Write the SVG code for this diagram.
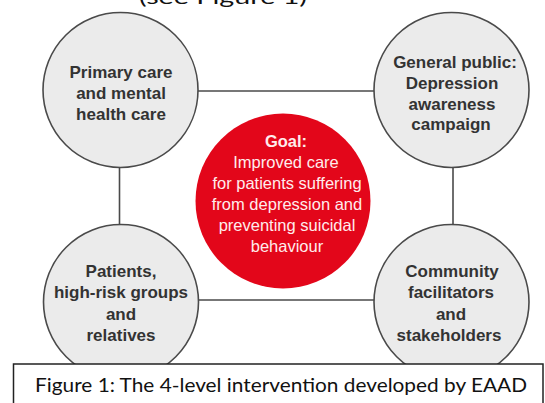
<svg xmlns="http://www.w3.org/2000/svg" width="545" height="403" viewBox="0 0 545 403">
<style>
.node circle{fill:#ebebeb;stroke:#4a4a4a;stroke-width:1.6}
.node text{font-family:"Liberation Sans",Arial,sans-serif;font-weight:bold;font-size:17px;fill:#333;text-anchor:middle}
.goal circle{fill:#e3061a}
.goal text{font-family:"Liberation Sans",Arial,sans-serif;font-size:16.5px;fill:#ffecec;text-anchor:middle}
.conn line{stroke:#4a4a4a;stroke-width:1.6}
.cap{font-family:Lato,"Open Sans",sans-serif;font-size:19px;fill:#111}
</style>
<rect width="545" height="403" fill="#fff"/>
<text x="139" y="4" class="cap" font-size="28" textLength="168" lengthAdjust="spacingAndGlyphs">(see Figure 1)</text>
<g id="connectors" class="conn">
<line x1="120" y1="91" x2="453" y2="91"/>
<line x1="120" y1="300" x2="453" y2="300"/>
<line x1="119.5" y1="91" x2="119.5" y2="300"/>
<line x1="453" y1="91" x2="453" y2="300"/>
</g>
<g id="node-primary-care" class="node">
<circle cx="120.5" cy="90" r="77.5"/>
<text x="121" y="78">Primary care</text>
<text x="121" y="99">and mental</text>
<text x="121" y="120">health care</text>
</g>
<g id="node-general-public" class="node">
<circle cx="451.5" cy="90" r="77.5"/>
<text x="455" y="68">General public:</text>
<text x="452" y="89">Depression</text>
<text x="452" y="110">awareness</text>
<text x="451" y="130">campaign</text>
</g>
<g id="node-patients" class="node">
<circle cx="121" cy="302" r="77.5"/>
<text x="121" y="277">Patients,</text>
<text x="121" y="298">high-risk groups</text>
<text x="121" y="320">and</text>
<text x="121" y="341">relatives</text>
</g>
<g id="node-community" class="node">
<circle cx="451.5" cy="302" r="77.5"/>
<text x="452" y="277">Community</text>
<text x="451" y="298">facilitators</text>
<text x="451" y="320">and</text>
<text x="449" y="341">stakeholders</text>
</g>
<g id="node-goal" class="goal">
<circle cx="283" cy="201" r="87.5"/>
<text x="286" y="147" font-weight="bold">Goal:</text>
<text x="286" y="168">Improved care</text>
<text x="287" y="189">for patients suffering</text>
<text x="287" y="210">from depression and</text>
<text x="287" y="231">preventing suicidal</text>
<text x="287" y="252">behaviour</text>
</g>
<g id="caption">
<rect x="13.5" y="364" width="529.5" height="50" fill="#fff" stroke="#222" stroke-width="1.5"/>
<text x="35" y="392" class="cap" textLength="492" lengthAdjust="spacingAndGlyphs">Figure 1: The 4-level intervention developed by EAAD</text>
</g>
</svg>
